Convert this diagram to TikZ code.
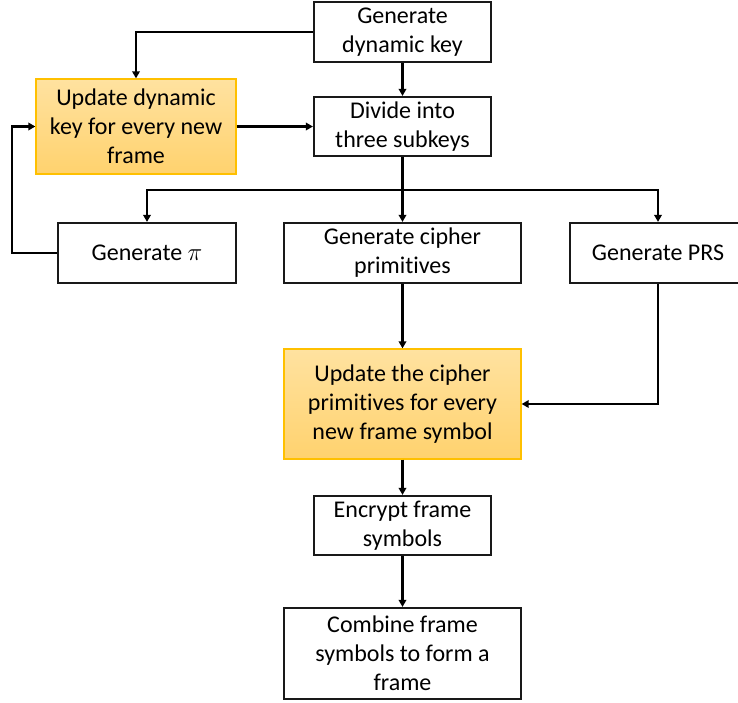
\documentclass[tikz,border=0pt]{standalone}
\usepackage{fontspec}
\setmainfont{Carlito}[Ligatures=NoCommon]
\usetikzlibrary{arrows.meta,calc,positioning}
\definecolor{boxline}{RGB}{25,25,25}
\definecolor{updline}{RGB}{255,192,0}
\definecolor{updtop}{RGB}{255,226,160}
\definecolor{updbot}{RGB}{255,210,110}

\begin{document}
\begin{tikzpicture}[x=1pt, y=-1pt]
	\tikzstyle{every node}=[font=\fontsize{24}{29}\selectfont]
	\tikzstyle{stepbox}=[draw=boxline, line width=2.2pt, inner sep=0pt, align=center]
	\tikzstyle{updbox}=[draw=updline, line width=1.3pt, inner sep=0pt, align=center, top color=updtop, bottom color=updbot]
	\tikzstyle{arr}=[line width=2.2pt, -{Triangle[length=7pt,width=7.5pt]}]
	\useasboundingbox (0,0) rectangle (738,702);
	% boxes
	\node [stepbox, minimum width=177pt, minimum height=60pt] (gkey) at (402.5,32) {Generate\\dynamic key};
	\node [updbox, minimum width=200pt, minimum height=95pt] (upd) at (136,126.5) {Update dynamic\\key for every new\\frame};
	\node [stepbox, minimum width=177pt, minimum height=59pt] (div) at (402.5,126.5) {Divide into\\three subkeys};
	\node [stepbox, minimum width=178pt, minimum height=60pt] (gpi) at (147,253) {Generate $\pi$};
	\node [stepbox, minimum width=237pt, minimum height=60pt] (gcp) at (402.5,253) {Generate cipher\\primitives};
	\node [stepbox, minimum width=176pt, minimum height=60pt] (gprs) at (658,253) {Generate PRS};
	\node [updbox, minimum width=237pt, minimum height=110pt] (ucp) at (402.5,404) {Update the cipher\\primitives for every\\new frame symbol};
	\node [stepbox, minimum width=177pt, minimum height=59pt] (enc) at (402.5,525.5) {Encrypt frame\\symbols};
	\node [stepbox, minimum width=237pt, minimum height=91pt] (comb) at (402.5,653.5) {Combine frame\\symbols to form a\\frame};
	\coordinate (split) at (402.5,190);
	\coordinate (fb) at (12,253);
	% connectors
	\draw [arr] (gkey.west) -| (upd.north);
	\draw [arr] (gkey.south) -- (div.north);
	\draw [arr] (upd.east) -- (div.west);
	\draw [arr] (div.south) -- (gcp.north);
	\draw [arr] (split) -| (gpi.north);
	\draw [arr] (split) -| (gprs.north);
	\draw [arr] (gpi.west) -- (fb) |- (upd.west);
	\draw [arr] (gcp.south) -- (ucp.north);
	\draw [arr] (gprs.south) |- (ucp.east);
	\draw [arr] (ucp.south) -- (enc.north);
	\draw [arr] (enc.south) -- (comb.north);
\end{tikzpicture}
\end{document}
